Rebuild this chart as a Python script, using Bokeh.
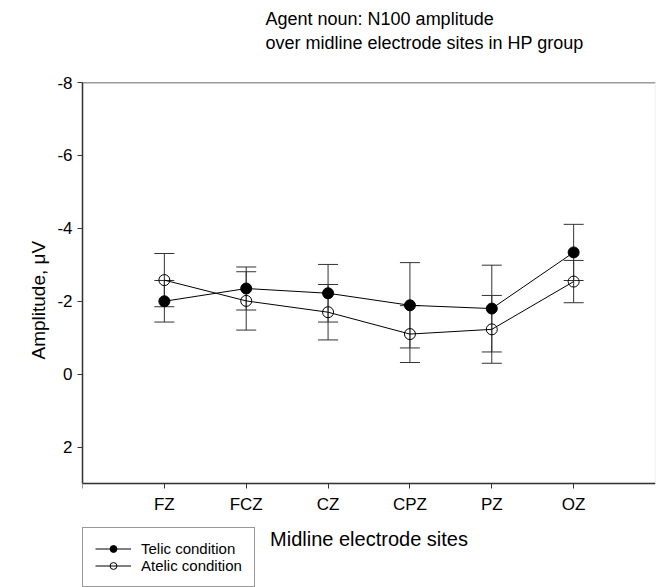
from bokeh.plotting import figure
from bokeh.models import (Range1d, FixedTicker, ColumnDataSource, Whisker, TeeHead,
                          Legend, LegendItem, Title, BoxAnnotation, Span)
from bokeh.embed import file_html
from bokeh.resources import INLINE

# ---- data ----
sites = ["FZ", "FCZ", "CZ", "CPZ", "PZ", "OZ"]
telic = [-2.00, -2.35, -2.22, -1.89, -1.80, -3.34]
telic_se = [0.57, 0.59, 0.79, 1.17, 1.19, 0.77]
atelic = [-2.58, -2.01, -1.70, -1.10, -1.23, -2.54]
atelic_se = [0.73, 0.80, 0.76, 0.78, 0.93, 0.58]
y_ticks = [-8, -6, -4, -2, 0, 2]
y_axis_top, y_axis_bottom = -8, 3
title_lines = ["Agent noun: N100 amplitude", "over midline electrode sites in HP group"]
x_title = "Midline electrode sites"
y_title = "Amplitude, \u03bcV"
legend_labels = ["Telic condition", "Atelic condition"]

FONT = "Liberation Sans"
xs = [i + 1 for i in range(len(sites))]
x_end = len(sites) + 1

# the frame reaches the bottom of the canvas so that the legend below the axis
# box is drawn inside it; the x axis sits at y = 3 (bottom of the axis box)
p = figure(width=656, height=587, output_backend="svg", toolbar_location=None,
           x_range=Range1d(0, x_end), y_range=Range1d(5.85, y_axis_top),
           min_border_left=82, min_border_top=82, min_border_right=1,
           min_border_bottom=0)
p.title.visible = False
p.grid.visible = False
p.background_fill_color = "white"
p.border_fill_color = "white"
p.outline_line_color = None

# axis box: light right side, dark top side
p.add_layout(BoxAnnotation(left=0, right=x_end, top=y_axis_top, bottom=y_axis_bottom,
                           fill_alpha=0, line_color="#b5b5b5", line_width=1.5,
                           level="underlay"))
p.add_layout(Span(location=y_axis_top, dimension="width", line_color="#444444",
                  line_width=1.5, level="underlay"))

# titles: spacer first (closest to the frame), then line 2, then line 1
p.add_layout(Title(text=" ", text_font=FONT, text_font_size="16px", standoff=11), "above")
for txt, so in zip(reversed(title_lines), [0, 3]):
    t = Title(text=txt, align="left", offset=183, text_font=FONT,
              text_font_size="18px", text_font_style="normal", text_color="black",
              standoff=so)
    p.add_layout(t, "above")

# axes
p.yaxis.bounds = (y_axis_top, y_axis_bottom)
p.yaxis.ticker = FixedTicker(ticks=y_ticks)
p.yaxis.major_label_overrides = {v: str(v) for v in y_ticks}
p.yaxis.minor_tick_line_color = None
p.yaxis.major_tick_out = 5
p.yaxis.major_tick_in = 0
p.yaxis.major_label_text_font = FONT
p.yaxis.major_label_text_font_size = "17px"
p.yaxis.major_label_text_color = "black"
p.yaxis.axis_line_color = "#333333"
p.yaxis.axis_line_width = 1.5
p.yaxis.major_tick_line_color = "#333333"

# y axis title, placed along the axis box (left side panel)
p.add_layout(Title(text=y_title, align="left", offset=228, text_font=FONT,
                   text_font_size="19px", text_font_style="normal", text_color="black",
                   standoff=12), "left")

p.xaxis.fixed_location = y_axis_bottom
p.xaxis.ticker = FixedTicker(ticks=[0] + xs)
overrides = {0: ""}
for x, s in zip(xs, sites):
    overrides[x] = s
p.xaxis.major_label_overrides = overrides
p.xaxis.minor_tick_line_color = None
p.xaxis.major_tick_out = 5
p.xaxis.major_tick_in = 0
p.xaxis.major_label_text_font = FONT
p.xaxis.major_label_text_font_size = "17px"
p.xaxis.major_label_text_color = "black"
p.xaxis.major_label_standoff = 6
p.xaxis.axis_label = x_title
p.xaxis.axis_label_text_font = FONT
p.xaxis.axis_label_text_font_size = "20px"
p.xaxis.axis_label_text_font_style = "normal"
p.xaxis.axis_label_text_color = "black"
p.xaxis.axis_label_standoff = 11
p.xaxis.axis_line_color = "#333333"
p.xaxis.axis_line_width = 1.5
p.xaxis.major_tick_line_color = "#333333"

src_t = ColumnDataSource(dict(x=xs, y=telic,
                              up=[m - s for m, s in zip(telic, telic_se)],
                              lo=[m + s for m, s in zip(telic, telic_se)]))
src_a = ColumnDataSource(dict(x=xs, y=atelic,
                              up=[m - s for m, s in zip(atelic, atelic_se)],
                              lo=[m + s for m, s in zip(atelic, atelic_se)]))

lt = p.line("x", "y", source=src_t, line_color="black", line_width=1)
la = p.line("x", "y", source=src_a, line_color="black", line_width=1)

for src in (src_t, src_a):
    w = Whisker(base="x", upper="up", lower="lo", source=src, dimension="height",
                line_color="#333333", line_width=1,
                upper_head=TeeHead(size=20, line_color="#333333", line_width=1),
                lower_head=TeeHead(size=20, line_color="#333333", line_width=1))
    p.add_layout(w)

mt = p.scatter("x", "y", source=src_t, size=11, marker="circle",
               fill_color="black", line_color="black")
ma = p.scatter("x", "y", source=src_a, size=11, marker="circle",
               fill_color="white", fill_alpha=0, line_color="black", line_width=1)

legend = Legend(items=[LegendItem(label=legend_labels[0], renderers=[lt, mt]),
                       LegendItem(label=legend_labels[1], renderers=[la, ma])],
                location=(0, 0), label_text_font=FONT, label_text_font_size="15px",
                label_text_color="black", glyph_width=36, glyph_height=17,
                label_height=17, label_standoff=10, spacing=0, padding=12, margin=0,
                border_line_color="#333333", border_line_width=1,
                background_fill_color="white", background_fill_alpha=1)
p.add_layout(legend, "center")

open("out.html", "w").write(file_html(p, INLINE))
